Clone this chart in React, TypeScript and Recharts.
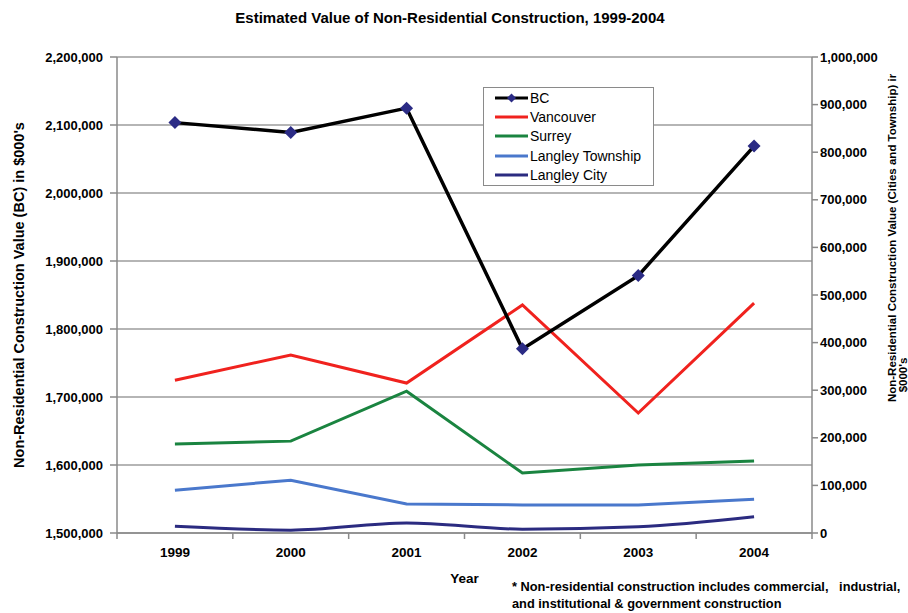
import React from 'react';
import { LineChart, Line, XAxis, YAxis, CartesianGrid, Legend, Label } from 'recharts';

const years = ['1999', '2000', '2001', '2002', '2003', '2004'];
const bcValues = [2103500, 2089000, 2124800, 1770800, 1878500, 2069000];
const vancouverValues = [321000, 374000, 315000, 479000, 252000, 483000];
const surreyValues = [187000, 193000, 298000, 126000, 143000, 151000];
const langleyTownshipValues = [90000, 111000, 61000, 59000, 59000, 71000];
const langleyCityValues = [14000, 6000, 21000, 8000, 13000, 34000];

const leftTicks = [1500000, 1600000, 1700000, 1800000, 1900000, 2000000, 2100000, 2200000];
const rightTicks = [0, 100000, 200000, 300000, 400000, 500000, 600000, 700000, 800000, 900000, 1000000];

const seriesInfo = [
  { key: 'langleyCity', name: 'Langley City', color: '#2b2b80', axis: 'right', type: 'monotone' },
  { key: 'langleyTownship', name: 'Langley Township', color: '#4a78cc', axis: 'right', type: 'linear' },
  { key: 'surrey', name: 'Surrey', color: '#1a8440', axis: 'right', type: 'linear' },
  { key: 'vancouver', name: 'Vancouver', color: '#f0221e', axis: 'right', type: 'linear' },
  { key: 'bc', name: 'BC', color: '#000000', axis: 'left', type: 'linear' },
];
const legendOrder = ['bc', 'vancouver', 'surrey', 'langleyTownship', 'langleyCity'];

const data = years.map((year, i) => ({
  year,
  bc: bcValues[i],
  vancouver: vancouverValues[i],
  surrey: surreyValues[i],
  langleyTownship: langleyTownshipValues[i],
  langleyCity: langleyCityValues[i],
}));

const FONT = '"Liberation Sans", Arial, sans-serif';
const AXIS_GRAY = '#8a8a8a';
const MARKER = '#2b2b85';

const fmt = (v: number) => v.toLocaleString('en-US');

const Diamond = (p: any) => {
  const { cx, cy, index } = p;
  if (cx == null || cy == null) return <g key={`d-${index}`} />;
  const r = 6.5;
  return (
    <path
      key={`d-${index}`}
      d={`M${cx},${cy - r} L${cx + r},${cy} L${cx},${cy + r} L${cx - r},${cy} Z`}
      fill={MARKER}
    />
  );
};

const XTick = (p: any) => {
  const { x, y, payload, index, width } = p;
  const half = (width || 695) / (years.length * 2);
  return (
    <g>
      {index === 0 && <line x1={x - half} x2={x - half} y1={y} y2={y + 6} stroke={AXIS_GRAY} strokeWidth={1.5} />}
      <line x1={x + half} x2={x + half} y1={y} y2={y + 6} stroke={AXIS_GRAY} strokeWidth={1.5} />
      <text x={x} y={y + 24} textAnchor="middle" fontFamily={FONT} fontSize={13.5} fontWeight="bold" fill="#000">
        {payload.value}
      </text>
    </g>
  );
};

const LegendBox = () => (
  <div
    style={{
      border: `1.5px solid ${AXIS_GRAY}`,
      background: '#fff',
      boxSizing: 'border-box',
      width: 171,
      height: 99,
      fontFamily: FONT,
      fontSize: 14,
      color: '#000',
    }}
  >
    {legendOrder.map((k) => {
      const s = seriesInfo.find((x) => x.key === k)!;
      return (
        <div key={k} style={{ display: 'flex', alignItems: 'center', height: 19.4 }}>
          <svg width={46} height={14} style={{ flex: 'none' }}>
            <line x1={11} x2={44} y1={7} y2={7} stroke={s.color} strokeWidth={3} />
            {k === 'bc' && <path d="M27.5,2.5 L32,7 L27.5,11.5 L23,7 Z" fill={MARKER} />}
          </svg>
          <span style={{ lineHeight: '14px' }}>{s.name}</span>
        </div>
      );
    })}
  </div>
);

const RightLabel = (p: any) => {
  const vb = p.viewBox || { x: 812, y: 57, width: 96, height: 476 };
  const x1 = vb.x + 80;
  const x2 = vb.x + 91;
  return (
    <g fontFamily={FONT} fontSize={11.5} fontWeight="bold" fill="#000">
      <text transform={`translate(${x1},238) rotate(-90)`} textAnchor="middle" dominantBaseline="central">
        Non-Residential Construction Value (Cities and Township) ir
      </text>
      <text transform={`translate(${x2},375) rotate(-90)`} textAnchor="middle" dominantBaseline="central">
        $000's
      </text>
    </g>
  );
};

export default function App() {
  return (
    <div style={{ position: 'absolute', left: 0, top: 0, width: 908, height: 613, background: '#fff' }}>
      <div
        style={{
          position: 'absolute',
          left: 0,
          top: 9,
          width: 900,
          textAlign: 'center',
          fontFamily: FONT,
          fontWeight: 'bold',
          fontSize: 15,
          color: '#000',
        }}
      >
        Estimated Value of Non-Residential Construction, 1999-2004
      </div>
      <LineChart width={908} height={613} data={data} margin={{ top: 57, right: 0, bottom: 0, left: 0 }}>
        <CartesianGrid vertical={false} yAxisId="left" stroke="#9c9c9c" strokeWidth={1.5} />
        <XAxis
          dataKey="year"
          scale="band"
          height={80}
          interval={0}
          tickLine={false}
          tickSize={0}
          tickMargin={0}
          axisLine={{ stroke: AXIS_GRAY, strokeWidth: 1.5 }}
          tick={<XTick />}
        >
          <Label value="Year" position="center" dy={5} style={{ fontFamily: FONT, fontSize: 13.5, fontWeight: 'bold', fill: '#000' }} />
        </XAxis>
        <YAxis
          yAxisId="left"
          width={117}
          domain={[1500000, 2200000]}
          ticks={leftTicks}
          interval={0}
          allowDataOverflow
          tickFormatter={fmt}
          tickSize={7}
          tickMargin={7}
          tickLine={{ stroke: AXIS_GRAY, strokeWidth: 1.5 }}
          axisLine={{ stroke: AXIS_GRAY, strokeWidth: 1.5 }}
          tick={{ fontFamily: FONT, fontSize: 13, fontWeight: 'bold', fill: '#000' }}
        >
          <Label
            value="Non-Residential Construction Value (BC) in $000's"
            angle={-90}
            position="center"
            dx={-40}
            style={{ fontFamily: FONT, fontSize: 14.5, fontWeight: 'bold', fill: '#000', textAnchor: 'middle' }}
          />
        </YAxis>
        <YAxis
          yAxisId="right"
          orientation="right"
          width={96}
          domain={[0, 1000000]}
          ticks={rightTicks}
          interval={0}
          allowDataOverflow
          tickFormatter={fmt}
          tickSize={6}
          tickMargin={2}
          tickLine={{ stroke: AXIS_GRAY, strokeWidth: 1.5 }}
          axisLine={{ stroke: AXIS_GRAY, strokeWidth: 1.5 }}
          tick={{ fontFamily: FONT, fontSize: 13, fontWeight: 'bold', fill: '#000' }}
        >
          <Label content={<RightLabel />} />
        </YAxis>
        <Legend
          layout="vertical"
          align="center"
          verticalAlign="middle"
          wrapperStyle={{ left: 483, top: 87, width: 171, height: 99 }}
          content={<LegendBox />}
        />
        {seriesInfo.map((s) => (
          <Line
            key={s.key}
            yAxisId={s.axis}
            dataKey={s.key}
            name={s.name}
            type={s.type as any}
            stroke={s.color}
            strokeWidth={s.key === 'bc' ? 3.5 : 3}
            dot={s.key === 'bc' ? <Diamond /> : false}
            activeDot={false}
            isAnimationActive={false}
          />
        ))}
      </LineChart>
      <div
        style={{
          position: 'absolute',
          left: 512,
          top: 578,
          fontFamily: FONT,
          fontWeight: 'bold',
          fontSize: 12.8,
          lineHeight: '17px',
          color: '#000',
          whiteSpace: 'pre',
        }}
      >
        {'* Non-residential construction includes commercial,   industrial,\nand institutional & government construction'}
      </div>
    </div>
  );
}
